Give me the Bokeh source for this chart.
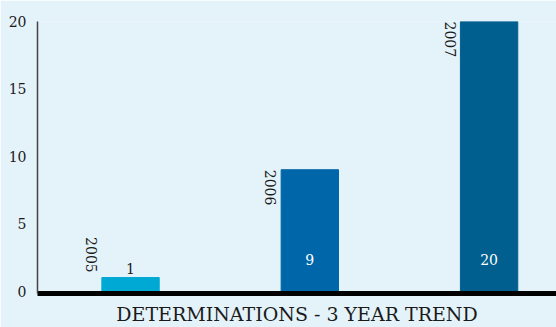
import math
from bokeh.plotting import figure
from bokeh.models import ColumnDataSource, Range1d, FixedTicker
from bokeh.core.properties import value
from bokeh.embed import file_html
from bokeh.resources import INLINE

# ---- data ----
years = [2005, 2006, 2007]
counts = [1, 9, 20]
bar_colors = ["#00A9D4", "#0066AA", "#005F8E"]
y_ticks = [0, 5, 10, 15, 20]
chart_title = "DETERMINATIONS - 3 YEAR TREND"

BG = "#E4F2F9"
FONT = "DejaVu Serif"
INSIDE_MIN = 5  # values at or above this get their label inside the bar

p = figure(width=556, height=327,
           x_range=Range1d(2004.481, 2007.376),
           y_range=Range1d(-0.185, 20),
           output_backend="svg", toolbar_location=None,
           min_border_left=37, min_border_right=0,
           min_border_top=21, min_border_bottom=33)
p.background_fill_color = BG
p.border_fill_color = BG
p.outline_line_color = None
p.xgrid.visible = False
p.ygrid.visible = False

# y axis
p.yaxis.ticker = FixedTicker(ticks=y_ticks)
p.yaxis.axis_line_color = "#444444"
p.yaxis.axis_line_width = 1.5
p.yaxis.major_tick_line_color = None
p.yaxis.minor_tick_line_color = None
p.yaxis.major_label_standoff = 5
p.yaxis.major_label_text_font = FONT
p.yaxis.major_label_text_font_size = "14px"
p.yaxis.major_label_text_color = "#1a1a1a"

# x axis: thick baseline + title as axis label
p.xaxis.ticker = FixedTicker(ticks=[])
p.xaxis.axis_line_color = "black"
p.xaxis.axis_line_width = 5
p.xaxis.major_tick_line_color = None
p.xaxis.minor_tick_line_color = None
p.xaxis.major_label_standoff = 0
p.xaxis.axis_label = chart_title
p.xaxis.axis_label_standoff = 9
p.xaxis.axis_label_text_font = FONT
p.xaxis.axis_label_text_font_size = "19px"
p.xaxis.axis_label_text_font_style = "normal"
p.xaxis.axis_label_text_color = "#1a1a1a"

src = ColumnDataSource(dict(
    x=years, top=counts, color=bar_colors,
    year_str=[str(y) for y in years],
    year_y=[max(c, 4) for c in counts],
))
p.vbar(x="x", top="top", bottom=0, width=0.32, color="color", source=src)

# rotated year labels left of each bar
p.text(x="x", y="year_y", text="year_str", source=src,
       angle=-math.pi / 2, text_align="left", text_baseline="middle",
       x_offset=-39, text_font=value(FONT), text_font_size="14px",
       text_color="#1a1a1a")

inside = [i for i, c in enumerate(counts) if c >= INSIDE_MIN]
outside = [i for i, c in enumerate(counts) if c < INSIDE_MIN]

src_in = ColumnDataSource(dict(
    x=[years[i] for i in inside], y=[0 for i in inside],
    t=[str(counts[i]) for i in inside]))
p.text(x="x", y="y", text="t", source=src_in, text_align="center",
       text_baseline="middle", y_offset=-32, text_font=value(FONT),
       text_font_size="14px", text_color="white")

src_out = ColumnDataSource(dict(
    x=[years[i] for i in outside], y=[counts[i] for i in outside],
    t=[str(counts[i]) for i in outside]))
p.text(x="x", y="y", text="t", source=src_out, text_align="center",
       text_baseline="bottom", y_offset=-4, text_font=value(FONT),
       text_font_size="14px", text_color="#1a1a1a")

open("out.html", "w").write(file_html(p, INLINE))
